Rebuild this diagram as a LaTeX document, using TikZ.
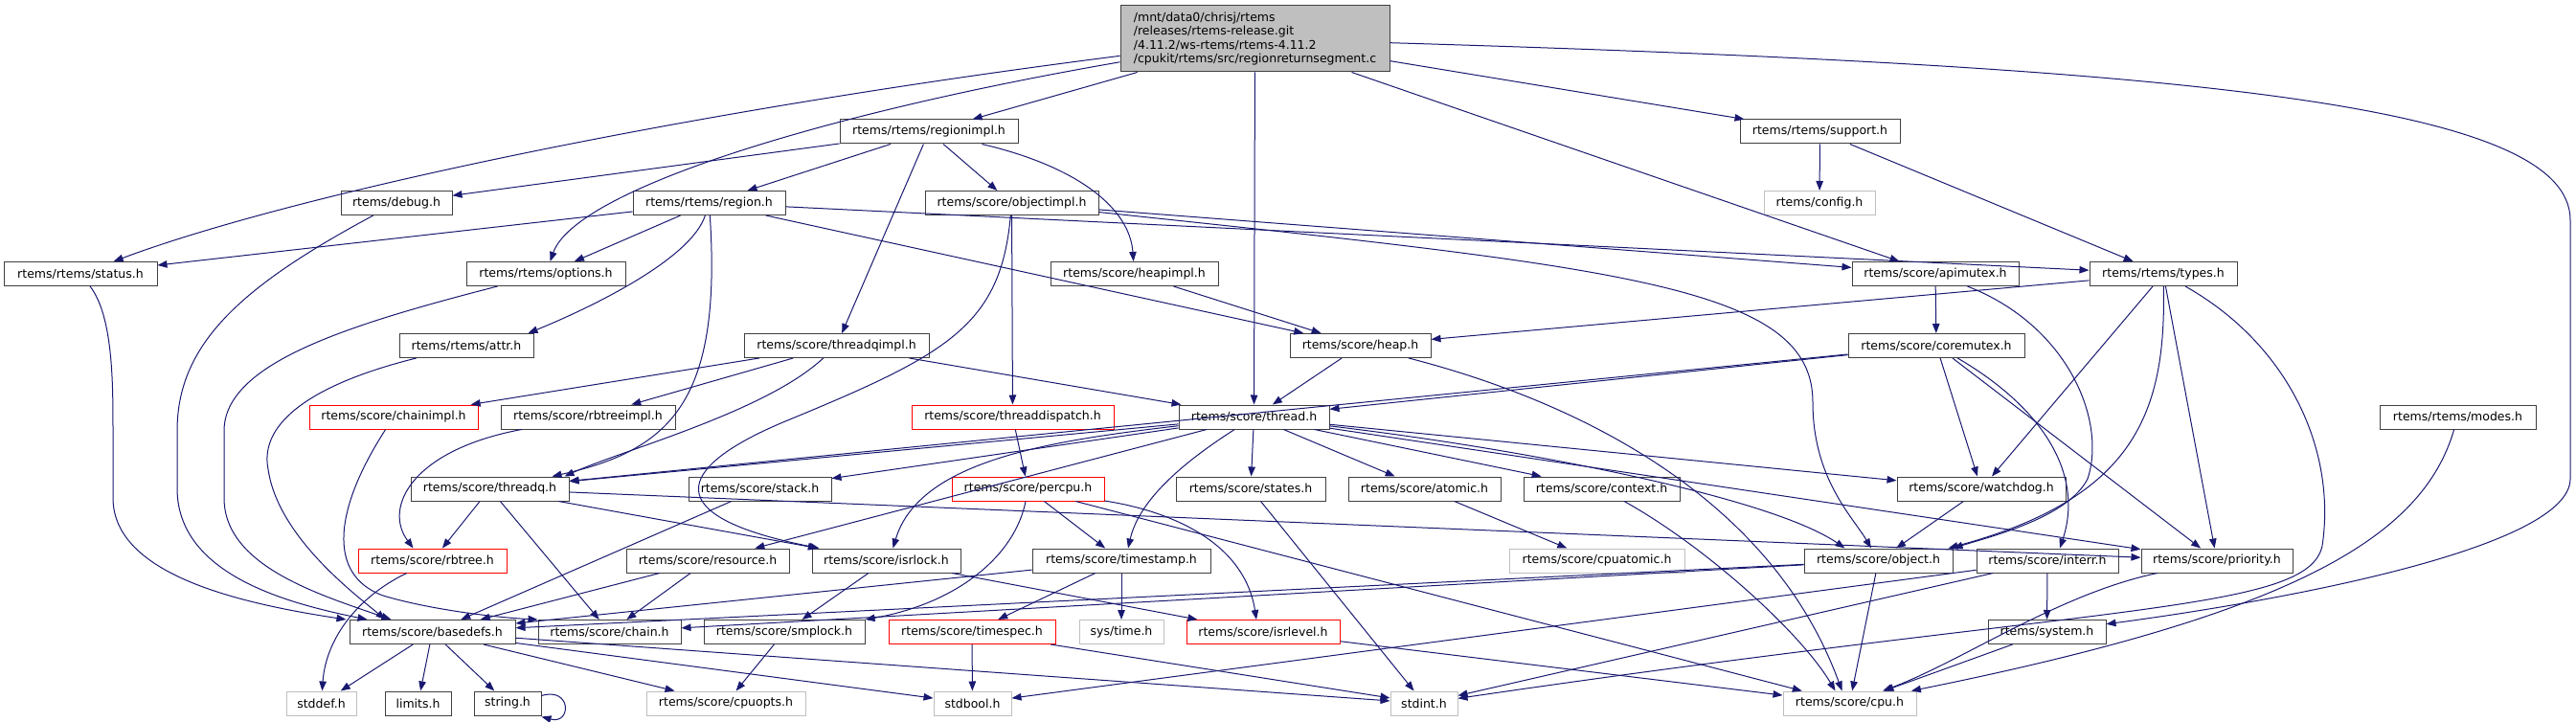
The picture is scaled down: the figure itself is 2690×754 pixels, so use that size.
\documentclass[tikz,border=0pt]{standalone}
\usepackage{fontspec}
\usetikzlibrary{arrows.meta}
\newfontfamily\dxfont{DejaVu Sans}
\newcommand\hfont{\dxfont\fontsize{12.5pt}{14.5pt}\selectfont}
\definecolor{dxblue}{HTML}{191970}
\begin{document}
\begin{tikzpicture}[x=1pt, y=-1pt,
	box/.style={draw=black!75, line width=1pt, minimum height=25pt, inner sep=0pt, font=\hfont},
	grey/.style={box, draw=black!25},
	trunc/.style={box, draw=red},
	dep/.style={draw=dxblue, line width=1pt, -{Triangle[length=10pt,width=7.5pt]}}]
		\useasboundingbox (0,0) rectangle (2690,754);

		\draw (1310.5,40.5) node[box, fill=black!25, minimum width=281pt, minimum height=69pt, align=left] (main) {/mnt/data0/chrisj/rtems\\/releases/rtems-release.git\\/4.11.2/ws-rtems/rtems-4.11.2\\/cpukit/rtems/src/regionreturnsegment.c};

		\draw (970,137.5) node[box, minimum width=186pt] (regionimpl) {rtems/rtems/regionimpl.h};
		\draw (1900.5,137.5) node[box, minimum width=167pt] (support) {rtems/rtems/support.h};

		\draw (414,212) node[box, minimum width=116pt] (debug) {rtems/debug.h};
		\draw (740.5,212) node[box, minimum width=159pt] (region) {rtems/rtems/region.h};
		\draw (1056.5,212) node[box, minimum width=181pt] (objectimpl) {rtems/score/objectimpl.h};
		\draw (1900,212) node[grey, minimum width=116pt] (config) {rtems/config.h};

		\draw (84,286) node[box, minimum width=160pt] (status) {rtems/rtems/status.h};
		\draw (570,286) node[box, minimum width=166pt] (options) {rtems/rtems/options.h};
		\draw (1184.5,286) node[box, minimum width=175pt] (heapimpl) {rtems/score/heapimpl.h};
		\draw (2021,286) node[box, minimum width=174pt] (apimutex) {rtems/score/apimutex.h};
		\draw (2259,286) node[box, minimum width=154pt] (types) {rtems/rtems/types.h};

		\draw (487,361) node[box, minimum width=140pt] (attr) {rtems/rtems/attr.h};
		\draw (873.5,361) node[box, minimum width=193pt] (threadqimpl) {rtems/score/threadqimpl.h};
		\draw (1420.5,361) node[box, minimum width=147pt] (heap) {rtems/score/heap.h};
		\draw (2022,361) node[box, minimum width=184pt] (coremutex) {rtems/score/coremutex.h};

		\draw (411,435.5) node[trunc, minimum width=176pt] (chainimpl) {rtems/score/chainimpl.h};
		\draw (614,435.5) node[box, minimum width=182pt] (rbtreeimpl) {rtems/score/rbtreeimpl.h};
		\draw (1057.5,435.5) node[trunc, minimum width=211pt] (threaddispatch) {rtems/score/threaddispatch.h};
		\draw (1309.5,435.5) node[box, minimum width=157pt] (thread) {rtems/score/thread.h};
		\draw (2566.5,435.5) node[box, minimum width=163pt] (modes) {rtems/rtems/modes.h};

		\draw (511.5,510.5) node[box, minimum width=165pt] (threadq) {rtems/score/threadq.h};
		\draw (793.5,510.5) node[box, minimum width=149pt] (stack) {rtems/score/stack.h};
		\draw (1073.5,510.5) node[trunc, minimum width=159pt] (percpu) {rtems/score/percpu.h};
		\draw (1306,510.5) node[box, minimum width=156pt] (states) {rtems/score/states.h};
		\draw (1487.5,510.5) node[box, minimum width=159pt] (atomic) {rtems/score/atomic.h};
		\draw (1672.5,510.5) node[box, minimum width=163pt] (context) {rtems/score/context.h};
		\draw (2069,510.5) node[box, minimum width=176pt] (watchdog) {rtems/score/watchdog.h};

		\draw (451.5,585.5) node[trunc, minimum width=155pt] (rbtree) {rtems/score/rbtree.h};
		\draw (739,585.5) node[box, minimum width=170pt] (resource) {rtems/score/resource.h};
		\draw (925.5,585.5) node[box, minimum width=155pt] (isrlock) {rtems/score/isrlock.h};
		\draw (1171,585.5) node[box, minimum width=186pt] (timestamp) {rtems/score/timestamp.h};
		\draw (1667.5,585.5) node[grey, minimum width=183pt] (cpuatomic) {rtems/score/cpuatomic.h};
		\draw (1961.5,585.5) node[box, minimum width=155pt] (object) {rtems/score/object.h};
		\draw (2138,585.5) node[box, minimum width=148pt] (interr) {rtems/score/interr.h};
		\draw (2315,585.5) node[box, minimum width=158pt] (priority) {rtems/score/priority.h};

		\draw (451.5,660) node[box, minimum width=173pt] (basedefs) {rtems/score/basedefs.h};
		\draw (636.5,660) node[box, minimum width=149pt] (chain) {rtems/score/chain.h};
		\draw (819,660) node[box, minimum width=168pt] (smplock) {rtems/score/smplock.h};
		\draw (1015,660) node[trunc, minimum width=174pt] (timespec) {rtems/score/timespec.h};
		\draw (1171,660) node[grey, minimum width=88pt] (systime) {sys/time.h};
		\draw (1319,660) node[trunc, minimum width=160pt] (isrlevel) {rtems/score/isrlevel.h};
		\draw (2137.5,660) node[box, minimum width=123pt] (system) {rtems/system.h};

		\draw (335.5,734.5) node[grey, minimum width=73pt] (stddef) {stddef.h};
		\draw (436.5,734.5) node[box, minimum width=69pt] (limits) {limits.h};
		\draw (530,734.5) node[box, minimum width=70pt] (string) {string.h};
		\draw (758,734.5) node[grey, minimum width=166pt] (cpuopts) {rtems/score/cpuopts.h};
		\draw (1015.5,734.5) node[grey, minimum width=81pt] (stdbool) {stdbool.h};
		\draw (1487,734.5) node[grey, minimum width=70pt] (stdint) {stdint.h};
		\draw (1931.5,734.5) node[grey, minimum width=139pt] (cpu) {rtems/score/cpu.h};

		% the source file
		\draw [dep] (main) .. controls (700,118) and (300,205) .. (status);
		\draw [dep] (main) .. controls (850,120) and (600,200) .. (options);
		\draw [dep] (main) -- (regionimpl);
		\draw [dep] (main) -- (thread);
		\draw [dep] (main) -- (support);
		\draw [dep] (main) -- (apimutex);
		\draw [dep] (main) .. controls (2300,70) and (2684,110) .. (2684,230) -- (2684,500) .. controls (2684,570) and (2400,625) .. (system);

		\draw [dep] (regionimpl) -- (debug);
		\draw [dep] (regionimpl) -- (region);
		\draw [dep] (regionimpl) -- (objectimpl);
		\draw [dep] (regionimpl) -- (threadqimpl);
		\draw [dep] (regionimpl) .. controls (1130,175) and (1180,220) .. (heapimpl);
		\draw [dep] (support) -- (config);
		\draw [dep] (support) -- (types);

		\draw [dep] (debug) .. controls (250,300) and (185,360) .. (185,450) -- (185,510) .. controls (185,600) and (300,630) .. ([xshift=19pt]basedefs.north west);
		\draw [dep] (region) -- (status);
		\draw [dep] (region) -- (options);
		\draw [dep] (region) .. controls (722,270) and (620,320) .. ([xshift=-6pt]attr.north east);
		\draw [dep] (region) .. controls (754,420) and (700,470) .. ([xshift=-18pt]threadq.north east);
		\draw [dep] (region) -- (heap);
		\draw [dep] (region) -- (types);
		\draw [dep] (objectimpl) -- (apimutex);
		\draw [dep] (objectimpl) .. controls (1700,280) and (1893,300) .. (1893,420) .. controls (1893,500) and (1935,540) .. (object);
		\draw [dep] (objectimpl) .. controls (1045,340) and (990,370) .. (820,440) .. controls (700,490) and (690,540) .. ([xshift=8pt]isrlock.north west);
		\draw [dep] (objectimpl) -- (threaddispatch);

		\draw [dep] (status) .. controls (118,330) and (118,400) .. (118,450) -- (118,520) .. controls (118,600) and (250,630) .. ([xshift=-3pt]basedefs.north west);
		\draw [dep] (options) .. controls (360,340) and (234,380) .. (234,450) -- (234,520) .. controls (234,590) and (330,620) .. ([xshift=44pt]basedefs.north west);
		\draw [dep] (heapimpl) -- (heap);
		\draw [dep] (apimutex) -- (coremutex);
		\draw [dep] (apimutex) .. controls (2160,340) and (2200,440) .. (2180,500) .. controls (2160,540) and (2080,560) .. (object.north east);
		\draw [dep] (types) -- (heap);
		\draw [dep] (types) -- (watchdog);
		\draw [dep] (types) .. controls (2262,430) and (2230,520) .. ([xshift=-5pt]object.north east);
		\draw [dep] (types) -- (priority);
		\draw [dep] (types) .. controls (2390,360) and (2440,470) .. (2425,570) .. controls (2410,640) and (2200,630) .. (stdint);

		\draw [dep] (attr) .. controls (330,400) and (270,440) .. (280,490) .. controls (290,560) and (370,620) .. ([xshift=38pt]basedefs.north west);
		\draw [dep] (threadqimpl) -- (chainimpl);
		\draw [dep] (threadqimpl) -- (rbtreeimpl);
		\draw [dep] (threadqimpl) -- (thread);
		\draw [dep] (threadqimpl) .. controls (800,430) and (650,470) .. ([xshift=-5pt]threadq.north east);
		\draw [dep] (heap) -- (thread);
		\draw [dep] (heap) .. controls (1650,420) and (1850,520) .. ([xshift=-8pt]cpu.north);
		\draw [dep] (coremutex) -- (threadq);
		\draw [dep] (coremutex) -- (thread);
		\draw [dep] (coremutex) -- (watchdog);
		\draw [dep] (coremutex) .. controls (2140,430) and (2175,500) .. ([xshift=13pt]interr.north);
		\draw [dep] (coremutex) -- (priority);

		\draw [dep] (chainimpl) .. controls (350,530) and (340,600) .. (400,622) .. controls (450,637) and (520,645) .. (chain.north west);
		\draw [dep] (rbtreeimpl) .. controls (430,470) and (400,530) .. ([xshift=-20pt]rbtree.north);
		\draw [dep] (threaddispatch) -- (percpu);
		\draw [dep] (thread) -- (threadq);
		\draw [dep] (thread) -- (stack);
		\draw [dep] (thread) -- (resource);
		\draw [dep] (thread) .. controls (1100,460) and (960,480) .. ([xshift=7pt]isrlock.north);
		\draw [dep] (thread) .. controls (1240,480) and (1190,520) .. ([xshift=7pt]timestamp.north);
		\draw [dep] (thread) -- (states);
		\draw [dep] (thread) -- (atomic);
		\draw [dep] (thread) -- (context);
		\draw [dep] (thread) -- (watchdog);
		\draw [dep] (thread) .. controls (1600,470) and (1850,520) .. ([xshift=-35pt]object.north);
		\draw [dep] (thread) -- (priority);
		\draw [dep] (modes) .. controls (2530,560) and (2400,640) .. (cpu);

		\draw [dep] (threadq) -- (rbtree);
		\draw [dep] (threadq) -- (chain);
		\draw [dep] (threadq) -- (priority);
		\draw [dep] (threadq) -- (isrlock);
		\draw [dep] (stack) -- (basedefs);
		\draw [dep] (percpu) -- (timestamp);
		\draw [dep] (percpu) .. controls (1060,580) and (1000,630) .. (smplock.north east);
		\draw [dep] (percpu) .. controls (1230,535) and (1300,570) .. ([xshift=-7pt]isrlevel.north);
		\draw [dep] (percpu) -- (cpu);
		\draw [dep] (states) -- (stdint);
		\draw [dep] (atomic) -- (cpuatomic);
		\draw [dep] (context) .. controls (1780,570) and (1880,660) .. ([xshift=-15pt]cpu.north);
		\draw [dep] (watchdog) -- (object);

		\draw [dep] (rbtree) .. controls (370,625) and (340,670) .. (stddef);
		\draw [dep] (resource) -- (basedefs);
		\draw [dep] (resource) -- (chain);
		\draw [dep] (isrlock) -- (smplock);
		\draw [dep] (isrlock) -- (isrlevel);
		\draw [dep] (timestamp) -- (timespec);
		\draw [dep] (timestamp) -- (systime);
		\draw [dep] (timestamp) -- (basedefs);
		\draw [dep] (object) -- (basedefs);
		\draw [dep] (object) -- (chain);
		\draw [dep] (object) -- (cpu);
		\draw [dep] (interr) -- (system);
		\draw [dep] (interr) -- (stdint);
		\draw [dep] (interr) -- (stdbool);
		\draw [dep] (priority) .. controls (2150,620) and (2050,690) .. (cpu);

		\draw [dep] (basedefs) -- (stddef);
		\draw [dep] (basedefs) -- (limits);
		\draw [dep] (basedefs) -- (string);
		\draw [dep] (basedefs) -- (cpuopts);
		\draw [dep] (basedefs) -- (stdbool);
		\draw [dep] (basedefs) -- (stdint);
		\draw [dep] ([yshift=8pt]string.east) .. controls (597,717) and (597,757) .. ([yshift=-1pt]string.south east);
		\draw [dep] (smplock) -- (cpuopts);
		\draw [dep] (timespec) -- (stdbool);
		\draw [dep] (timespec) -- (stdint);
		\draw [dep] (isrlevel) -- (cpu);
		\draw [dep] (system) -- (cpu);
	\end{tikzpicture}
\end{document}
